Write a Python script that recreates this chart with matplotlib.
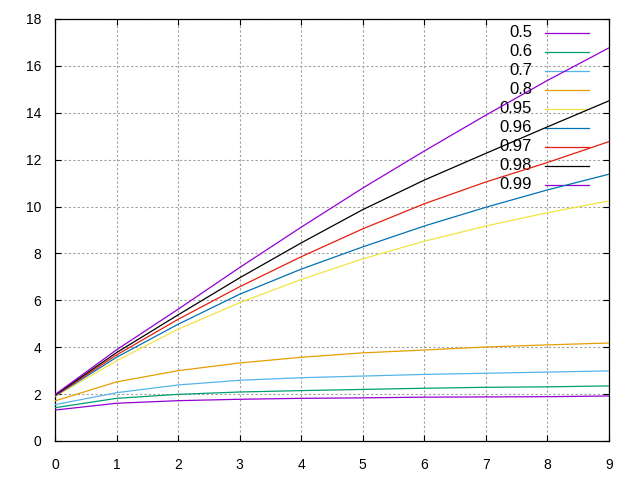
import matplotlib
matplotlib.use("Agg")
import matplotlib.pyplot as plt

plt.rcParams['font.family'] = ['Liberation Sans', 'DejaVu Sans']

x = [0, 1, 2, 3, 4, 5, 6, 7, 8, 9]

labels = ['0.5', '0.6', '0.7', '0.8', '0.95', '0.96', '0.97', '0.98', '0.99']
colors = ['#9400d3', '#009e73', '#56b4e9', '#e69f00', '#f0e442',
          '#0072b2', '#e51e10', '#000000', '#9400d3']

y_05 = [1.32, 1.61, 1.72, 1.78, 1.82, 1.84, 1.87, 1.88, 1.89, 1.92]
y_06 = [1.42, 1.82, 1.99, 2.09, 2.15, 2.20, 2.25, 2.29, 2.31, 2.35]
y_07 = [1.55, 2.06, 2.39, 2.59, 2.70, 2.77, 2.84, 2.89, 2.94, 2.99]
y_08 = [1.71, 2.52, 3.00, 3.33, 3.57, 3.76, 3.88, 4.01, 4.10, 4.18]
y_095 = [1.90, 3.42, 4.77, 5.90, 6.89, 7.77, 8.52, 9.17, 9.74, 10.24]
y_096 = [1.92, 3.57, 4.98, 6.26, 7.33, 8.28, 9.17, 9.97, 10.71, 11.38]
y_097 = [1.94, 3.67, 5.19, 6.58, 7.86, 9.05, 10.12, 11.05, 11.88, 12.77]
y_098 = [1.96, 3.77, 5.38, 6.96, 8.45, 9.87, 11.13, 12.27, 13.40, 14.51]
y_099 = [1.98, 3.89, 5.62, 7.40, 9.12, 10.79, 12.37, 13.90, 15.38, 16.77]

series = [y_05, y_06, y_07, y_08, y_095, y_096, y_097, y_098, y_099]

fig = plt.figure(figsize=(6.4, 4.8), dpi=100)
ax = fig.add_axes([55 / 640, 39 / 480, 554 / 640, 422 / 480])

for ys, c in zip(series, colors):
    ax.plot(x, ys, color=c, linewidth=0.9, zorder=3)

# gnuplot style key: right aligned text, sample line after it
for i, (lab, c) in enumerate(zip(labels, colors)):
    yk = 0.9675 - i * 0.045
    ax.text(0.861, yk, lab, transform=ax.transAxes, ha='right', va='center',
            fontsize=12, zorder=2)
    ax.plot([0.884, 0.964], [yk, yk], transform=ax.transAxes, color=c,
            linewidth=0.9, zorder=2)

ax.set_xlim(0, 9)
ax.set_ylim(0, 18)
ax.set_xticks(range(0, 10))
ax.set_yticks(range(0, 19, 2))
ax.grid(True, color='#a0a0a0', linestyle=(0, (2, 2)), linewidth=0.8)
ax.set_axisbelow(True)
ax.tick_params(direction='in', top=True, right=True, length=4, width=0.8,
               labelsize=10)
ax.tick_params(axis='y', pad=10)
ax.tick_params(axis='x', pad=12)
for sp in ax.spines.values():
    sp.set_linewidth(0.9)

fig.savefig("out.png", dpi=100)
